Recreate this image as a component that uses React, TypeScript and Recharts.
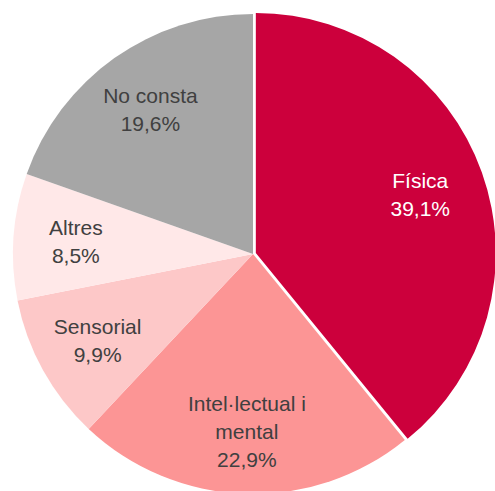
import { PieChart, Pie, Cell } from "recharts";

const categories = ["Física", "Intel·lectual i mental", "Sensorial", "Altres", "No consta"];
const percents = [39.1, 22.9, 9.9, 8.5, 19.6];
const COLORS = ["#CC003C", "#FC9595", "#FDC8C8", "#FFE8E8", "#A6A6A6"];
const TEXT_COLORS = ["#FFFFFF", "#404040", "#404040", "#404040", "#404040"];

const data = categories.map((name, i) => ({ name, value: percents[i] }));

const CX = 253;
const CY = 254;
const R = 240;
const RAD = Math.PI / 180;

// the first slice is pulled out a little along its middle angle
const total = percents.reduce((a, b) => a + b, 0);
const explodeMid = 90 - (percents[0] / total) * 180;
const EXPLODE = 3;
const exX = CX + EXPLODE * Math.cos(explodeMid * RAD);
const exY = CY - EXPLODE * Math.sin(explodeMid * RAD);

function wrap(text: string, max: number) {
  const words = text.split(" ");
  const lines: string[] = [];
  let cur = "";
  words.forEach((w) => {
    const next = cur ? cur + " " + w : w;
    if (next.length > max && cur) {
      lines.push(cur);
      cur = w;
    } else {
      cur = next;
    }
  });
  if (cur) lines.push(cur);
  return lines;
}

function renderLabel(props: any) {
  const { midAngle, index, name, value } = props;
  const r = R * 0.74;
  const x = CX + r * Math.cos(-midAngle * RAD);
  const y = CY + r * Math.sin(-midAngle * RAD);
  const lines = [...wrap(name, 15), value.toFixed(1).replace(".", ",") + "%"];
  const lineH = 28;
  const startY = y - ((lines.length - 1) * lineH) / 2;
  return (
    <text
      key={"lbl" + index}
      x={x}
      y={startY}
      fill={TEXT_COLORS[index]}
      textAnchor="middle"
      dominantBaseline="central"
      fontSize={21}
      fontFamily="'Liberation Sans', Arial, sans-serif"
    >
      {lines.map((l, i) => (
        <tspan key={i} x={x} dy={i === 0 ? 0 : lineH}>
          {l}
        </tspan>
      ))}
    </text>
  );
}

export default function App() {
  return (
    <div style={{ position: "absolute", left: 0, top: 0 }}>
      <PieChart width={495} height={491} margin={{ top: 0, right: 0, bottom: 0, left: 0 }}>
        <Pie
          data={data}
          dataKey="value"
          nameKey="name"
          cx={exX}
          cy={exY}
          outerRadius={R}
          startAngle={90}
          endAngle={-270}
          stroke="none"
          isAnimationActive={false}
        >
          {data.map((d, i) => (
            <Cell key={d.name} fill={i === 0 ? COLORS[0] : "none"} />
          ))}
        </Pie>
        <Pie
          data={data}
          dataKey="value"
          nameKey="name"
          cx={CX}
          cy={CY}
          outerRadius={R}
          startAngle={90}
          endAngle={-270}
          stroke="none"
          labelLine={false}
          label={renderLabel}
          isAnimationActive={false}
        >
          {data.map((d, i) => (
            <Cell key={d.name} fill={i === 0 ? "none" : COLORS[i]} />
          ))}
        </Pie>
      </PieChart>
    </div>
  );
}
